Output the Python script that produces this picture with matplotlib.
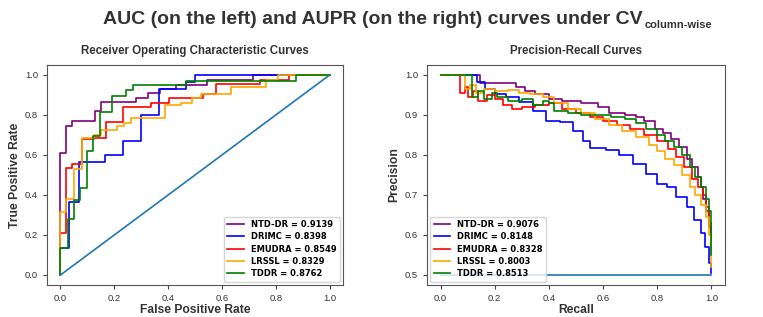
import matplotlib
matplotlib.use("Agg")
import matplotlib.pyplot as plt

# ROC curves (corner points, drawn as steps-post)
ntd_fpr = [0, 0, 0.022, 0.042, 0.13, 0.151, 0.28, 0.325, 0.37, 0.43, 0.545, 0.716, 1.0]
ntd_tpr = [0, 0.61, 0.747, 0.772, 0.82, 0.864, 0.885, 0.91, 0.93, 0.952, 0.973, 1.0, 1.0]
drimc_fpr = [0, 0, 0.031, 0.068, 0.167, 0.231, 0.299, 0.366, 0.466, 0.5, 1.0]
drimc_tpr = [0, 0.133, 0.365, 0.565, 0.601, 0.668, 0.80, 0.93, 0.965, 1.0, 1.0]
emudra_fpr = [0, 0, 0.021, 0.042, 0.08, 0.126, 0.17, 0.233, 0.338, 0.404, 0.53, 0.577, 0.743, 0.851, 1.0]
emudra_tpr = [0, 0.208, 0.537, 0.556, 0.678, 0.685, 0.767, 0.839, 0.86, 0.884, 0.907, 0.953, 0.973, 1.0, 1.0]
lrssl_fpr = [0, 0, 0.021, 0.052, 0.08, 0.126, 0.151, 0.209, 0.235, 0.262, 0.39, 0.447, 0.49, 0.521, 0.632, 0.762, 0.81, 1.0]
lrssl_tpr = [0, 0.316, 0.38, 0.53, 0.684, 0.698, 0.723, 0.744, 0.76, 0.786, 0.849, 0.86, 0.884, 0.907, 0.94, 0.973, 1.0, 1.0]
tddr_fpr = [0, 0, 0.027, 0.049, 0.074, 0.097, 0.121, 0.146, 0.193, 0.243, 0.27, 0.466, 0.874, 1.0]
tddr_tpr = [0, 0.133, 0.282, 0.375, 0.433, 0.62, 0.693, 0.815, 0.897, 0.927, 0.952, 0.968, 1.0, 1.0]

# PR curves
ntd_rec = [0, 0.147, 0.28, 0.31, 0.35, 0.40, 0.45, 0.52, 0.58, 0.62, 0.68, 0.72, 0.75, 0.79, 0.82,
           0.85, 0.88, 0.91, 0.93, 0.95, 0.96, 0.97, 0.98, 0.99, 1.0]
ntd_prec = [1.0, 0.98, 0.97, 0.96, 0.952, 0.94, 0.935, 0.93, 0.92, 0.905, 0.90, 0.895, 0.885, 0.865, 0.855,
            0.84, 0.82, 0.79, 0.77, 0.745, 0.72, 0.69, 0.66, 0.62, 0.57]
drimc_rec = [0, 0.135, 0.166, 0.2, 0.24, 0.29, 0.34, 0.39, 0.44, 0.49, 0.525, 0.55, 0.61, 0.66, 0.71,
             0.76, 0.80, 0.835, 0.87, 0.91, 0.934, 0.96, 0.978, 0.99, 1.0]
drimc_prec = [1.0, 0.982, 0.965, 0.953, 0.944, 0.932, 0.911, 0.886, 0.882, 0.861, 0.836, 0.818, 0.813, 0.80, 0.778,
              0.753, 0.728, 0.72, 0.695, 0.67, 0.637, 0.604, 0.57, 0.53, 0.505]
emudra_rec = [0, 0.073, 0.09, 0.10, 0.12, 0.14, 0.17, 0.2, 0.23, 0.265, 0.3, 0.35, 0.4, 0.45, 0.5, 0.55,
              0.6, 0.65, 0.7, 0.75, 0.8, 0.84, 0.87, 0.9, 0.93, 0.95, 0.97, 0.98, 0.99, 1.0]
emudra_prec = [1.0, 0.955, 0.97, 0.945, 0.96, 0.935, 0.95, 0.94, 0.925, 0.915, 0.92, 0.925, 0.93, 0.915, 0.905, 0.895,
               0.885, 0.875, 0.865, 0.85, 0.835, 0.815, 0.795, 0.77, 0.74, 0.72, 0.70, 0.67, 0.63, 0.56]
lrssl_rec = [0, 0.09, 0.11, 0.13, 0.16, 0.2, 0.25, 0.29, 0.33, 0.38, 0.42, 0.47, 0.52, 0.57, 0.62, 0.67,
             0.72, 0.77, 0.8, 0.83, 0.86, 0.89, 0.92, 0.94, 0.96, 0.98, 0.99, 1.0]
lrssl_prec = [1.0, 0.965, 0.975, 0.955, 0.965, 0.96, 0.963, 0.955, 0.952, 0.945, 0.93, 0.915, 0.905, 0.89, 0.875, 0.86,
              0.845, 0.825, 0.81, 0.79, 0.775, 0.75, 0.72, 0.70, 0.675, 0.645, 0.6, 0.52]
tddr_rec = [0, 0.117, 0.14, 0.16, 0.19, 0.21, 0.25, 0.3, 0.34, 0.38, 0.4, 0.42, 0.47, 0.52, 0.58, 0.63,
            0.68, 0.72, 0.76, 0.8, 0.83, 0.86, 0.89, 0.92, 0.94, 0.96, 0.98, 0.99, 1.0]
tddr_prec = [1.0, 0.945, 0.96, 0.94, 0.955, 0.945, 0.935, 0.94, 0.925, 0.935, 0.93, 0.91, 0.905, 0.90, 0.90, 0.895,
             0.89, 0.88, 0.865, 0.85, 0.835, 0.82, 0.80, 0.77, 0.745, 0.72, 0.69, 0.66, 0.55]

names = ["NTD-DR", "DRIMC", "EMUDRA", "LRSSL", "TDDR"]
colors = ["purple", "blue", "red", "orange", "green"]
auc_vals = ["0.9139", "0.8398", "0.8549", "0.8329", "0.8762"]
aupr_vals = ["0.9076", "0.8148", "0.8328", "0.8003", "0.8513"]

roc = [(ntd_fpr, ntd_tpr), (drimc_fpr, drimc_tpr), (emudra_fpr, emudra_tpr),
       (lrssl_fpr, lrssl_tpr), (tddr_fpr, tddr_tpr)]
pr = [(ntd_rec, ntd_prec), (drimc_rec, drimc_prec), (emudra_rec, emudra_prec),
      (lrssl_rec, lrssl_prec), (tddr_rec, tddr_prec)]

plt.rcParams["font.family"] = ["Liberation Sans", "DejaVu Sans"]
text_col = "#333333"

fig = plt.figure(figsize=(7.63, 3.17), dpi=100)
ax1 = fig.add_axes([0.0616, 0.101, 0.388, 0.694])
ax2 = fig.add_axes([0.5596, 0.101, 0.3906, 0.694])

for (x, y), c, n, v in zip(roc, colors, names, auc_vals):
    ax1.plot(x, y, drawstyle="steps-post", color=c, lw=1.2, label=f"{n} = {v}")
ax1.plot([0, 1], [0, 1], color="#1f77b4", lw=1.2)

for (x, y), c, n, v in zip(pr, colors, names, aupr_vals):
    ax2.plot(x, y, drawstyle="steps-post", color=c, lw=1.2, label=f"{n} = {v}")
ax2.plot([0, 1], [0.5, 0.5], color="#1f77b4", lw=1.2)

ax1.set_ylim(-0.05, 1.05)
ax2.set_ylim(0.475, 1.025)
for ax in (ax1, ax2):
    ax.set_xlim(-0.05, 1.05)
    ax.tick_params(labelsize=6.8, length=3, colors="#444444", labelcolor=text_col)
    for s in ax.spines.values():
        s.set_color("#555555")

ax1.set_title("Receiver Operating Characteristic Curves", fontsize=8.3, fontweight="bold", color=text_col, pad=8)
ax2.set_title("Precision-Recall Curves", fontsize=8.3, fontweight="bold", color=text_col, pad=8)
ax1.set_xlabel("False Positive Rate", fontsize=8.7, fontweight="bold", color=text_col, labelpad=1)
ax1.set_ylabel("True Positive Rate", fontsize=8.7, fontweight="bold", color=text_col, labelpad=3)
ax2.set_xlabel("Recall", fontsize=8.7, fontweight="bold", color=text_col, labelpad=1)
ax2.set_ylabel("Precision", fontsize=8.7, fontweight="bold", color=text_col, labelpad=3)

leg_font = {"family": "DejaVu Sans", "weight": "bold", "size": 6}
ax1.legend(loc="lower right", prop=leg_font, borderaxespad=0.4, labelspacing=0.4)
ax2.legend(loc="lower left", prop=leg_font, borderaxespad=0.4, labelspacing=0.4)

fig.text(643 / 763, 0.924, "AUC (on the left) and AUPR (on the right) curves under CV",
         ha="right", va="baseline", fontsize=14, fontweight="bold", color=text_col)
fig.text(645 / 763, 0.912, "column-wise", ha="left", va="baseline", fontsize=8,
         fontweight="bold", color=text_col)

fig.savefig("out.png", dpi=100)
